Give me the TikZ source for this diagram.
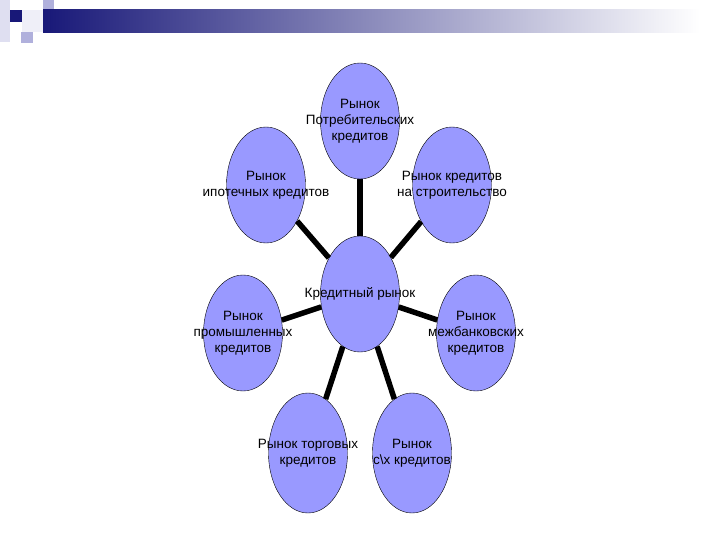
\documentclass[tikz,border=0pt]{standalone}
\usepackage{fontspec}
\setmainfont{Liberation Sans}
\usetikzlibrary{shapes.geometric}
\definecolor{periw}{RGB}{153,153,255}
\definecolor{navy}{RGB}{24,24,120}
\definecolor{lav}{RGB}{176,176,220}

\begin{document}
\begin{tikzpicture}[x=1pt,y=-1pt,
  market/.style={ellipse,draw=black,fill=periw,minimum width=79pt,minimum height=116pt,inner sep=0pt},
  lbl/.style={align=center,font=\fontsize{13.5}{16}\selectfont},
  link/.style={line width=5.5pt}]
\useasboundingbox[fill=white] (0,0) rectangle (720,540);
% header
\fill[lav!40] (0,0) rectangle (10,42);
\fill[lav] (43,0) rectangle (54,21);
\fill[lav!20] (22,10) rectangle (43,32);
\fill[lav] (21,32) rectangle (33,43);
\fill[left color=navy,right color=white] (43,10) rectangle (700,33);
\fill[navy] (10,10) rectangle (22,22);
% markets
\node[market] (top) at (360,121) {};
\node[market] (ipot) at (266,185) {};
\node[market] (stroi) at (452,185) {};
\node[market] (kred) at (360,294) {};
\node[market] (prom) at (243,333) {};
\node[market] (mezh) at (476,333) {};
\node[market,minimum height=120pt] (torg) at (308,453) {};
\node[market,minimum height=120pt] (sx) at (412,453) {};
\foreach \m in {top,ipot,stroi,prom,mezh,torg,sx}
  \draw[link] (kred) -- (\m);
% labels
\node[lbl] (top-t) at (top) {Рынок\\Потребительских\\кредитов};
\node[lbl] (ipot-t) at (ipot) {Рынок\\ипотечных кредитов};
\node[lbl] (stroi-t) at (stroi) {Рынок кредитов\\на строительство};
\node[lbl] (kred-t) at (kred) {Кредитный рынок};
\node[lbl] (prom-t) at (prom) {Рынок\\промышленных\\кредитов};
\node[lbl] (mezh-t) at (mezh) {Рынок\\межбанковских\\кредитов};
\node[lbl] (torg-t) at (torg) {Рынок торговых\\кредитов};
\node[lbl] (sx-t) at (sx) {Рынок\\с\textbackslash х кредитов};
\end{tikzpicture}
\end{document}
